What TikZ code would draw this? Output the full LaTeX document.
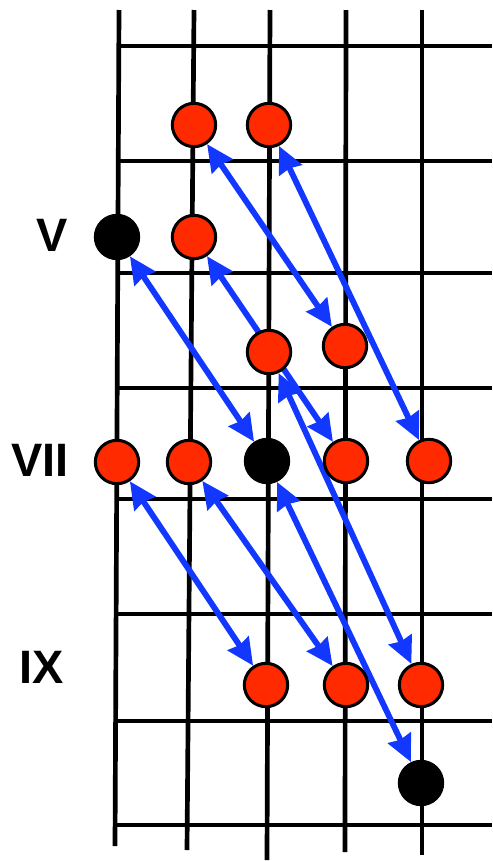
\documentclass[tikz,border=0pt]{standalone}
\usepackage{fontspec}
\setmainfont{Liberation Sans}
\usepackage{tikz}
\usetikzlibrary{arrows.meta,backgrounds}
\definecolor{FRed}{HTML}{FF2A00}
\definecolor{FBlue}{HTML}{1238FF}
\definecolor{FInk}{HTML}{000000}

\begin{document}
\begin{tikzpicture}[
  x=0.03cm, y=-0.03cm,
  note/.style ={circle, draw=FInk, fill=FRed, line width=2.6pt, minimum size=1.3cm, inner sep=0pt},
  root/.style ={circle, draw=FInk, fill=FInk, line width=2.6pt, minimum size=1.3cm, inner sep=0pt},
  lbl/.style  ={font=\fontsize{40}{40}\selectfont\bfseries, text=FInk, inner sep=0pt},
  strg/.style ={draw=FInk, line width=4pt},
  fret/.style ={draw=FInk, line width=4pt},
  move/.style ={{Stealth[length=0.8cm,width=0.74cm,inset=0.06cm]}-{Stealth[length=0.8cm,width=0.74cm,inset=0.06cm]},
                draw=FBlue, line width=5pt},
]
\useasboundingbox (0,0) rectangle (492,861);
\node[lbl] (lV)   at (52,235)  {V};
\node[lbl] (lVII) at (40,460)  {VII};
\node[lbl] (lIX)  at (42,667)  {IX};
\node[note] (a1) at (194,125) {};
\node[note] (a2) at (269,125) {};
\node[root] (v1) at (117,237) {};
\node[note] (v2) at (194,237) {};
\node[note] (m1) at (269,352) {};
\node[note] (m2) at (345,346) {};
\node[note] (s1) at (117,462) {};
\node[note] (s2) at (189,462) {};
\node[root] (s3) at (267,461) {};
\node[note] (s4) at (346,461) {};
\node[note] (s5) at (429,461) {};
\node[note] (x1) at (266,685) {};
\node[note] (x2) at (346,685) {};
\node[note] (x3) at (421,685) {};
\node[root] (b1) at (421,783) {};
\begin{scope}[on background layer]
  \foreach \xt/\xb/\yb in {119/115/846, 194/187/850, 270/267/860, 346/345/852, 422/422/855}
    {\draw[strg] (\xt,10) -- (\xb,\yb);}
  \foreach \y in {46,161,273,388,499,614,721,825}
    {\draw[fret] ({119-4*(\y-10)/836},\y) -- (492,\y);}
  \foreach \src/\dst in {a1/m2, a2/s5, v1/s3, v2/s4, m1/x3, s3/b1, s1/x1, s2/x2}
    {\draw[move] (\src) -- (\dst);}
\end{scope}
\end{tikzpicture}
\end{document}
